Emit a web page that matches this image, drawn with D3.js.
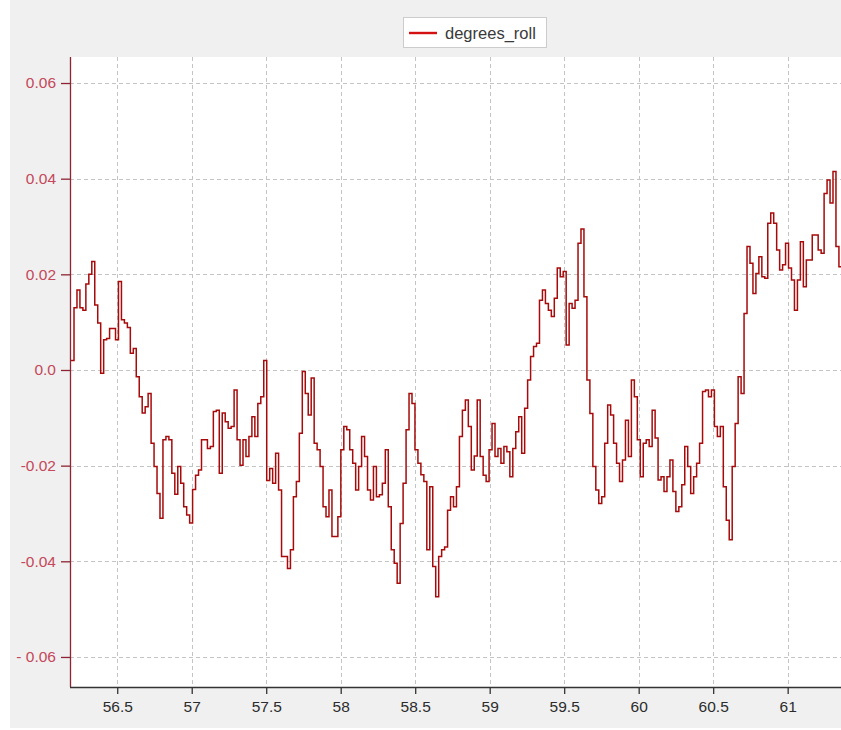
<!DOCTYPE html>
<html>
<head>
<meta charset="utf-8">
<script src="https://cdn.jsdelivr.net/npm/d3@7"></script>
<style>
  html, body { margin: 0; padding: 0; background: #ffffff; }
  svg { display: block; }
</style>
</head>
<body>
<svg id="chart" width="841" height="730"></svg>
<script>
// Roll angle trace, sampled at a fixed period starting at startTime
const seriesName = "degrees_roll";
const startTime = 56.19;
const samplePeriod = 0.0199;
const rollValues = [
  0.002, 0.013, 0.0167, 0.013, 0.0125, 0.018, 0.020, 0.0227, 0.0136, 0.0098,
  -0.0007, 0.0063, 0.0066, 0.0087, 0.0087, 0.0063, 0.0185, 0.0105, 0.0098, 0.0089,
  0.0035, 0.0045, -0.0014, -0.0056, -0.009, -0.0077, -0.0049, -0.0153, -0.0202, -0.0258,
  -0.031, -0.0146, -0.0139, -0.0146, -0.0216, -0.026, -0.0202, -0.0237, -0.0286, -0.0303,
  -0.032, -0.025, -0.022, -0.0209, -0.0146, -0.0146, -0.0164, -0.016, -0.0087, -0.0084,
  -0.0216, -0.009, -0.0108, -0.0122, -0.0118, -0.0042, -0.0146, -0.0199, -0.0146, -0.0181,
  -0.0139, -0.0098, -0.0139, -0.007, -0.0056, 0.002,
  -0.0231, -0.0206, -0.0237, -0.0174, -0.0251, -0.039, -0.039, -0.0415, -0.0376, -0.0265,
  -0.0233, -0.0132, -0.0003, -0.0049, -0.0094, -0.0017, -0.0153, -0.0167, -0.0202, -0.0286,
  -0.0307, -0.0251, -0.0348, -0.0348, -0.0307, -0.0167, -0.0118, -0.0125, -0.0167, -0.0195,
  -0.0251, -0.0202, -0.0139, -0.0181, -0.0251, -0.0272, -0.0202, -0.0265, -0.0261, -0.0237,
  -0.0167, -0.0286, -0.0376, -0.0404, -0.0446, -0.0321, -0.0237, -0.0125, -0.0049, -0.007,
  -0.0167, -0.0195, -0.0219, -0.0233, -0.0376, -0.0244, -0.0411, -0.0474, -0.039, -0.0376,
  -0.037, -0.0293, -0.0265, -0.0286, -0.0244, -0.0139,
  -0.0084, -0.0063, -0.0118, -0.0209, -0.018, -0.0063, -0.0181, -0.022, -0.0233, -0.0167,
  -0.0112, -0.0181, -0.0164, -0.0195, -0.016, -0.0171, -0.0223, -0.0164, -0.0129, -0.0098,
  -0.0174, -0.008, -0.0021, 0.0028, 0.0049, 0.0056, 0.0146, 0.0167, 0.0139, 0.0125,
  0.0112, 0.015, 0.0213, 0.0195, 0.0206, 0.0052, 0.0139, 0.0129, 0.0146, 0.0265,
  0.0295, 0.0153, -0.0021, -0.0091, -0.0202, -0.0251, -0.0279, -0.0265, -0.0153, -0.0073,
  -0.0094, -0.0153, -0.0195, -0.0233, -0.0188, -0.0105, -0.0181, -0.0021, -0.0056, -0.0146,
  -0.0223, -0.0153, -0.0146, -0.016, -0.0084,
  -0.0142, -0.023, -0.0223, -0.0254, -0.0223, -0.0188, -0.0254, -0.0296, -0.0286, -0.024,
  -0.016, -0.0202, -0.0258, -0.0223, -0.0195, -0.0153, -0.0045, -0.0042, -0.0056, -0.0042,
  -0.0118, -0.0139, -0.0118, -0.0244, -0.0314, -0.0355, -0.0202, -0.0112, -0.0014, -0.0049,
  0.0118, 0.0258, 0.0223, 0.016, 0.0202, 0.0237, 0.0195, 0.0192, 0.0307, 0.0328,
  0.0307, 0.0251, 0.0209, 0.022, 0.0265, 0.0213, 0.0188, 0.0125, 0.0188, 0.0268,
  0.0174, 0.023, 0.023, 0.0282, 0.0282, 0.0251, 0.0244, 0.0369, 0.0397, 0.0349,
  0.0415, 0.0258, 0.0216, 0.023
];

const xTicks = [56.5, 57, 57.5, 58, 58.5, 59, 59.5, 60, 60.5, 61];
const xTickLabels = ["56.5", "57", "57.5", "58", "58.5", "59", "59.5", "60", "60.5", "61"];
const yTicks = [0.06, 0.04, 0.02, 0, -0.02, -0.04, -0.06];
const yTickLabels = ["0.06", "0.04", "0.02", "0.0", "-0.02", "-0.04", "- 0.06"];

const xDomain = [56.183, 61.358];
const yDomain = [-0.06628, 0.06544];

const W = 841, H = 730;
const plot = { left: 70, right: 841, top: 57, bottom: 687 };
const font = "'Liberation Sans', Arial, sans-serif";

const svg = d3.select("#chart");

// window background
svg.append("rect").attr("x", 10).attr("y", 0).attr("width", W - 10).attr("height", 728)
  .attr("fill", "#f0f0f0");

const x = d3.scaleLinear().domain(xDomain).range([plot.left, plot.right]);
const y = d3.scaleLinear().domain(yDomain).range([plot.bottom, plot.top]);

// canvas
svg.append("rect")
  .attr("x", plot.left).attr("y", plot.top)
  .attr("width", plot.right - plot.left).attr("height", plot.bottom - plot.top)
  .attr("fill", "#ffffff");

svg.append("clipPath").attr("id", "plotClip")
  .append("rect")
  .attr("x", plot.left).attr("y", plot.top)
  .attr("width", plot.right - plot.left).attr("height", plot.bottom - plot.top);

// grid
const grid = svg.append("g").attr("stroke", "#c4c4c4").attr("stroke-width", 1)
  .attr("stroke-dasharray", "4,3").attr("shape-rendering", "crispEdges");
grid.selectAll("line.v").data(xTicks).join("line")
  .attr("class", "v")
  .attr("x1", d => Math.round(x(d)) + 0.5).attr("x2", d => Math.round(x(d)) + 0.5)
  .attr("y1", plot.top).attr("y2", plot.bottom);
grid.selectAll("line.h").data(yTicks).join("line")
  .attr("class", "h")
  .attr("y1", d => Math.round(y(d)) + 0.5).attr("y2", d => Math.round(y(d)) + 0.5)
  .attr("x1", plot.left).attr("x2", plot.right);

// series
const points = rollValues.map((v, i) => ({ t: startTime + i * samplePeriod, v }));
const line = d3.line().x(d => x(d.t)).y(d => y(d.v)).curve(d3.curveStepAfter);
svg.append("path")
  .datum(points)
  .attr("clip-path", "url(#plotClip)")
  .attr("fill", "none")
  .attr("stroke", "#a60a0a")
  .attr("stroke-width", 1.5)
  .attr("stroke-linejoin", "miter")
  .attr("d", line);

// left axis
const yAxis = d3.axisLeft(y).tickValues(yTicks).tickSize(9).tickPadding(5)
  .tickFormat((d, i) => yTickLabels[i]);
const gy = svg.append("g").attr("transform", `translate(${plot.left},0)`).call(yAxis);
gy.select(".domain").attr("d", `M0.5,${plot.top}V${plot.bottom}`).attr("stroke", "#8e2433").attr("stroke-width", 1.3);
gy.selectAll(".tick line").attr("stroke", "#8e2433").attr("stroke-width", 1.3);
gy.selectAll(".tick text")
  .attr("fill", "#c4485a")
  .attr("font-family", font)
  .attr("font-size", 15.5);

// bottom axis
const xAxis = d3.axisBottom(x).tickValues(xTicks).tickSize(7).tickPadding(7)
  .tickFormat((d, i) => xTickLabels[i]);
const gx = svg.append("g").attr("transform", `translate(0,${plot.bottom})`).call(xAxis);
gx.select(".domain").attr("d", `M${plot.left},0.5H${plot.right}`).attr("stroke", "#333333").attr("stroke-width", 1.3);
gx.selectAll(".tick line").attr("stroke", "#333333").attr("stroke-width", 1.3);
gx.selectAll(".tick text")
  .attr("fill", "#2c2c2c")
  .attr("font-family", font)
  .attr("font-size", 15.5);

// legend
const legend = svg.append("g");
legend.append("rect")
  .attr("x", 403.5).attr("y", 17.5).attr("width", 143).attr("height", 30)
  .attr("fill", "#ffffff").attr("stroke", "#cccccc");
legend.append("line")
  .attr("x1", 409).attr("x2", 437).attr("y1", 33).attr("y2", 33)
  .attr("stroke", "#d41010").attr("stroke-width", 2.4);
legend.append("text")
  .attr("x", 445).attr("y", 39)
  .attr("fill", "#3a3a3a")
  .attr("font-family", font)
  .attr("font-size", 16.5)
  .text(seriesName);
</script>
</body>
</html>
